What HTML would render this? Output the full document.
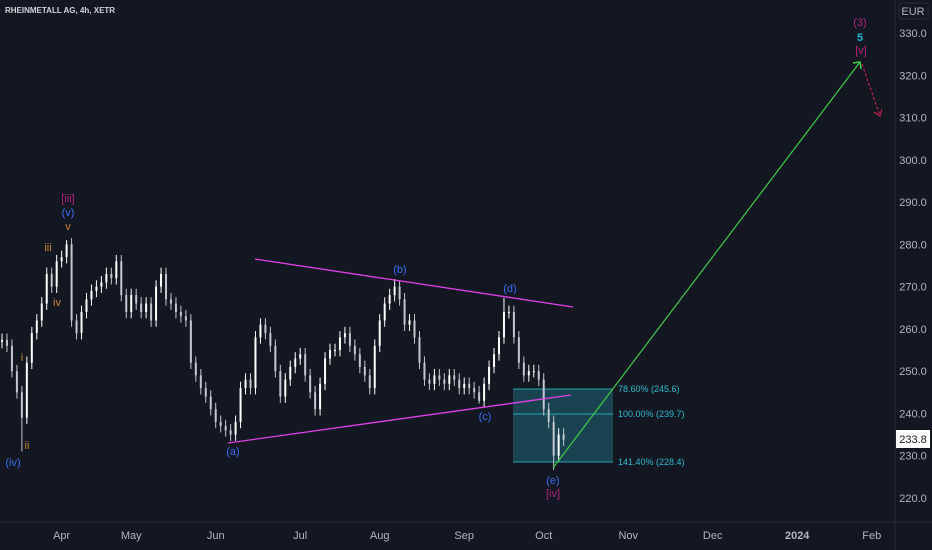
<!DOCTYPE html>
<html><head><meta charset="utf-8"><style>
html,body{margin:0;padding:0;background:#131722;}
svg{display:block;font-family:"Liberation Sans",sans-serif;}
</style></head><body>
<svg id="chart" width="932" height="550" xmlns="http://www.w3.org/2000/svg">
<rect x="0" y="0" width="932" height="550" fill="#131722"/>
<g id="fib">
 <rect x="513" y="389" width="100" height="73" fill="#1d5361" fill-opacity="0.75"/>
 <line x1="513" y1="389" x2="613" y2="389" stroke="#2aa5b5"/>
 <line x1="513" y1="414" x2="613" y2="414" stroke="#2aa5b5"/>
 <line x1="513" y1="462" x2="613" y2="462" stroke="#2aa5b5"/>
 <text x="618" y="392" font-size="9" fill="#2bbccc">78.60% (245.6)</text>
 <text x="618" y="417" font-size="9" fill="#2bbccc">100.00% (239.7)</text>
 <text x="618" y="465" font-size="9" fill="#2bbccc">141.40% (228.4)</text>
</g>
<g id="candles"></g>
<g id="annot">
 <line x1="255" y1="259" x2="573" y2="307" stroke="#e040e8" stroke-width="1.3"/>
 <line x1="228" y1="443" x2="571" y2="395" stroke="#e040e8" stroke-width="1.3"/>
 <line x1="553" y1="468" x2="860" y2="62" stroke="#3fc84a" stroke-width="1.2"/>
 <polyline points="853,63 860,62 861,69" fill="none" stroke="#3fc84a" stroke-width="1.5"/>
 <line x1="862" y1="64" x2="880" y2="116" stroke="#b8204e" stroke-width="1.2" stroke-dasharray="3,2"/>
 <polyline points="874,112 880,116 882,109" fill="none" stroke="#b8204e" stroke-width="1.2"/>
 <g font-size="11" text-anchor="middle">
  <text x="860" y="26" fill="#b0237a">(3)</text>
  <text x="860" y="41" fill="#1fb8d0" font-weight="bold">5</text>
  <text x="861" y="54" fill="#b0237a">[v]</text>
  <text x="68" y="202" fill="#b0237a">[iii]</text>
  <text x="68" y="216" fill="#3a6cf0">(v)</text>
  <text x="68" y="230" fill="#c8883a">v</text>
  <text x="48" y="251" fill="#c8883a">iii</text>
  <text x="57" y="306" fill="#c8883a">iv</text>
  <text x="22" y="361" fill="#c8883a">i</text>
  <text x="27" y="449" fill="#c8883a">ii</text>
  <text x="13" y="466" fill="#3a6cf0">(iv)</text>
  <text x="233" y="455" fill="#3a6cf0">(a)</text>
  <text x="400" y="273" fill="#3a6cf0">(b)</text>
  <text x="485" y="420" fill="#3a6cf0">(c)</text>
  <text x="510" y="292" fill="#3a6cf0">(d)</text>
  <text x="553" y="484" fill="#3a6cf0">(e)</text>
  <text x="553" y="497" fill="#b0237a">[iv]</text>
 </g>
</g>
<text x="5" y="13" font-size="8" font-weight="bold" fill="#d1d4dc">RHEINMETALL AG, 4h, XETR</text>
<line x1="895" y1="0" x2="895" y2="550" stroke="#2a2e39"/>
<line x1="0" y1="522" x2="932" y2="522" stroke="#2a2e39"/>
<rect x="899" y="3" width="29" height="16" rx="2" fill="#131722" stroke="#2a2e39"/>
<text x="913" y="15" font-size="11" fill="#b2b5be" text-anchor="middle">EUR</text>
<g id="yaxis"></g>
<g id="xaxis"></g>
<rect x="896" y="430" width="34" height="18" fill="#ffffff"/>
<text x="913" y="443" font-size="11" fill="#131722" text-anchor="middle">233.8</text>
</svg>
<script>
const closes = [257.4,256,250,245,239,252,259,262,266,273,270,276,277,280,262,259,264,267,269,270,271,273,272,276,268,264,268,266,264,266,262,270,273,267,266,264,263,262,252,249,246,244,241,238,237,236,235,238,246,248,246,258,261,259,256,250,244,248,251,253,254,249,245,241,247,253,255,255,258,259,256,254,251,249,246,256,262,266,268,270,267,261,262,258,252,248,247,249,248,247,249,248,246,247,246,245,243,247,251,254,258,264,264,258,252,249,250,250,248,241,238,230,235,233.8];
const extremeIdx = [4, 13, 46, 79, 96, 101, 111];
const extremeVal = [231.0, 281.0, 233.5, 271.8, 242.3, 267.3, 226.6];
const yTicks = [220,230,240,250,260,270,280,290,300,310,320,330];
const monthLabels = ["Apr","May","Jun","Jul","Aug","Sep","Oct","Nov","Dec","2024","Feb"];
const monthIdx = [12,26,43,60,76,93,109,126,143,160,175];

const NS="http://www.w3.org/2000/svg";
function yScale(p){return 33+(330-p)*4.227;}
function xScale(i){return 2+i*4.97;}
const cg=document.getElementById('candles');
for(let i=0;i<closes.length;i++){
  const o=i?closes[i-1]:closes[0]-0.5, c=closes[i];
  let hi=Math.max(o,c)+1.5, lo=Math.min(o,c)-1.5;
  const k=extremeIdx.indexOf(i);
  if(k>=0){ if(extremeVal[k]>c) hi=extremeVal[k]; else lo=extremeVal[k]; }
  const x=xScale(i);
  const col=c>=o?"#ffffff":"#c4c7cf";
  const w=document.createElementNS(NS,'line');
  w.setAttribute('x1',x);w.setAttribute('x2',x);
  w.setAttribute('y1',yScale(hi));w.setAttribute('y2',yScale(lo));
  w.setAttribute('stroke',col);w.setAttribute('stroke-width','1');
  
  
  cg.appendChild(w);
  const b=document.createElementNS(NS,'rect');
  const y1=yScale(Math.max(o,c)), y2=yScale(Math.min(o,c));
  b.setAttribute('x',x-1);b.setAttribute('width',2);
  b.setAttribute('y',y1);b.setAttribute('height',Math.max(1,y2-y1));
  b.setAttribute('fill',col);
  
  
  cg.appendChild(b);
}
const ya=document.getElementById('yaxis');
yTicks.forEach(v=>{
  const t=document.createElementNS(NS,'text');
  t.setAttribute('x',913);t.setAttribute('y',yScale(v)+4);
  t.setAttribute('font-size','11');t.setAttribute('fill','#b2b5be');
  t.setAttribute('text-anchor','middle');
  t.textContent=v.toFixed(1);
  
  
  ya.appendChild(t);
});
const xa=document.getElementById('xaxis');
monthLabels.forEach((m,i)=>{
  const t=document.createElementNS(NS,'text');
  t.setAttribute('x',xScale(monthIdx[i]));t.setAttribute('y',539);
  t.setAttribute('font-size','11');t.setAttribute('fill','#b2b5be');
  t.setAttribute('text-anchor','middle');
  if(m==="2024") t.setAttribute('font-weight','bold');
  t.textContent=m;
  
  
  xa.appendChild(t);
});
</script>
</body></html>
